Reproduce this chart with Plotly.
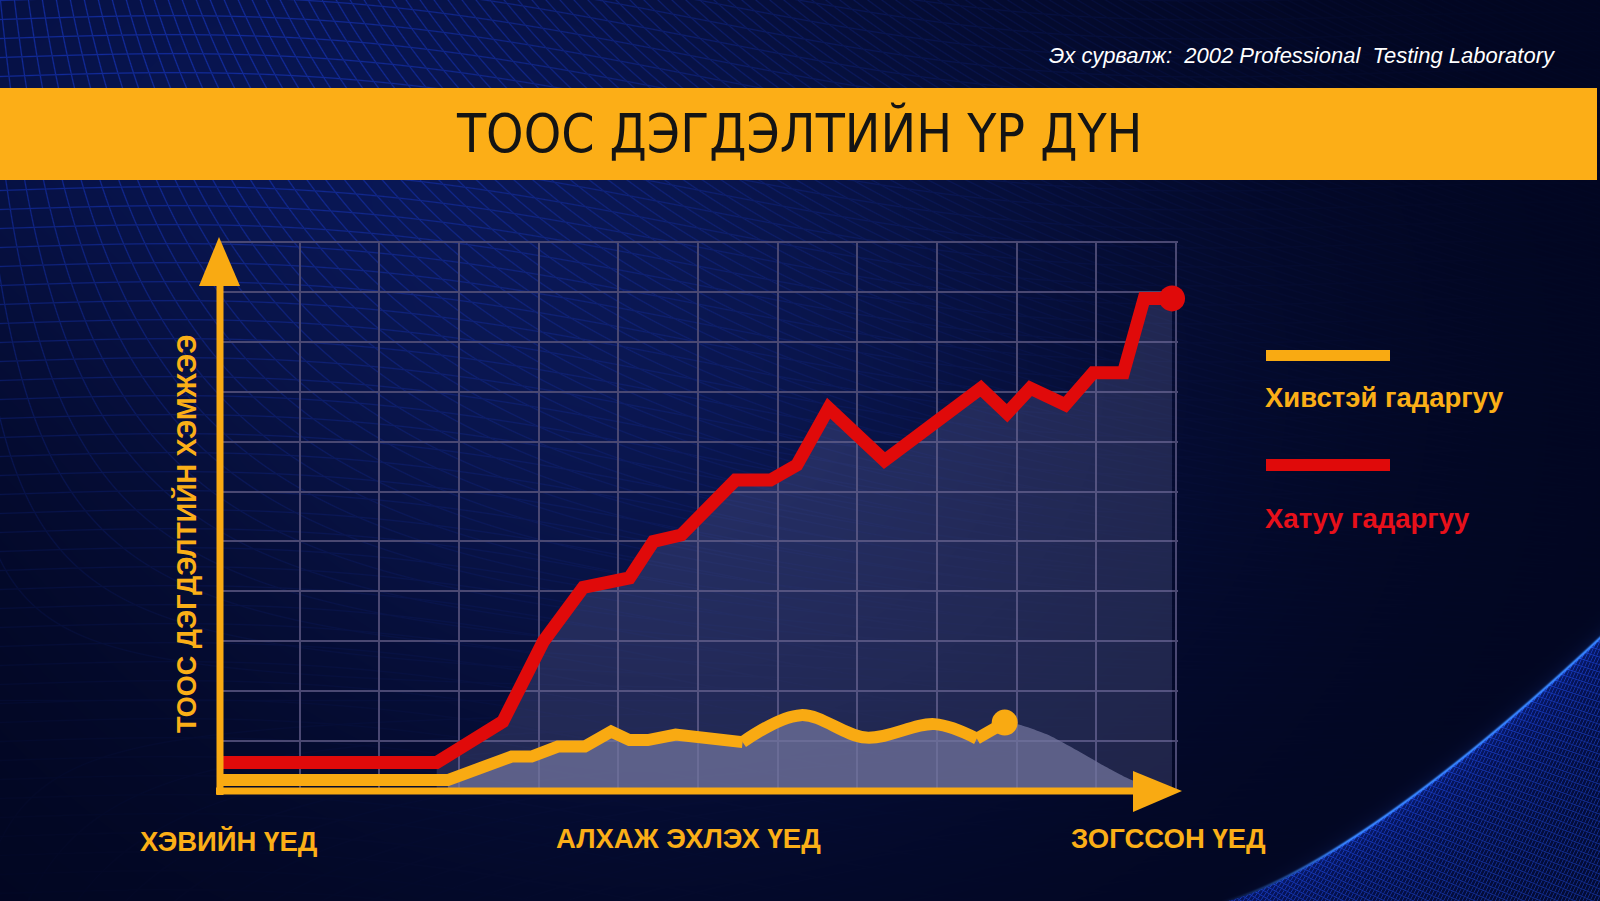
import base64
import struct
import zlib

import numpy as np
import plotly.graph_objects as go

# ---------------- data (axis units) ----------------
hard_x = [0.0, 2.72, 3.55, 4.06, 4.56, 5.14, 5.44, 5.79, 6.47, 6.91, 7.24, 7.64,
          8.34, 9.55, 9.88, 10.17, 10.61, 10.96, 11.34, 11.60, 11.95]
hard_y = [0.57, 0.57, 1.39, 3.00, 4.08, 4.27, 5.00, 5.13, 6.23, 6.23, 6.53, 7.67,
          6.62, 8.07, 7.57, 8.07, 7.74, 8.38, 8.38, 9.87, 9.87]

carpet_lin_x = [0.0, 2.86, 3.66, 3.91, 4.24, 4.58, 4.91, 5.14, 5.37, 5.72, 6.56]
carpet_lin_y = [0.22, 0.22, 0.69, 0.69, 0.89, 0.89, 1.19, 1.02, 1.02, 1.13, 0.98]
carpet_smooth_x = [6.56, 7.29, 8.11, 8.97, 9.50]
carpet_smooth_y = [0.98, 1.52, 1.07, 1.34, 1.05]
carpet_end_x = [9.50, 9.85]
carpet_end_y = [1.05, 1.37]

shadow_x = [9.85, 10.05, 10.40, 10.75, 11.10, 11.40, 11.60]
shadow_y = [1.37, 1.32, 1.12, 0.82, 0.50, 0.25, 0.12]

hard_fill_start = 1      # index where the hard-surface shading begins
carpet_fill_start = 1    # index where the carpet shading begins

title_text = "ТООС ДЭГДЭЛТИЙН ҮР ДҮН"
source_text = "<i>Эх сурвалж:\u00a0 2002 Professional\u00a0 Testing Laboratory</i>"
y_title = "ТООС ДЭГДЭЛТИЙН ХЭМЖЭЭ"
phase_labels = ["ХЭВИЙН ҮЕД", "АЛХАЖ ЭХЛЭХ ҮЕД", "ЗОГССОН ҮЕД"]
legend_labels = ["Хивстэй гадаргуу", "Хатуу гадаргуу"]

# ---------------- styling ----------------
W, H = 1600, 901
ORANGE = "#F9AA12"
RED = "#E00A0A"
BANNER = "#FCAE17"
TEXT_ORANGE = "#FBAF17"
TEXT_RED = "#E8101A"
GRID = "#4a4872"
FONT = "Liberation Sans, Arial, sans-serif"
NARROW = "DejaVu Sans Condensed, Liberation Sans Narrow, Arial Narrow, sans-serif"


def px(x):
    return x / W


def py(y):
    return 1 - y / H


# grid box in pixels (12 columns x 11 rows); axes ranges get a small pad so
# the outer grid lines are drawn
L, R, T, B = 220, 1176, 242, 791
NX, NY = 12, 11
PAD = 0.03
UX = (R - L) / NX
UY = (B - T) / NY
R_DOM = L + (NX + PAD) * UX
T_DOM = B - (NY + PAD) * UY


# ---------------- background picture ----------------
def make_background():
    yy, xx = np.mgrid[0:H, 0:W].astype(np.float32)
    img = np.zeros((H, W, 3), np.float32)
    img[:] = (2, 6, 32)
    g1 = np.exp(-(((xx - 650) / 540) ** 2 + ((yy - 380) / 430) ** 2))
    img += g1[..., None] * np.array([8, 16, 46], np.float32)
    g2 = np.exp(-(((xx - 150) / 520) ** 2 + ((yy - 60) / 300) ** 2))
    img += g2[..., None] * np.array([4, 10, 34], np.float32)

    def linemask(f, width=1.0):
        gy, gx = np.gradient(f)
        g = np.sqrt(gx ** 2 + gy ** 2) + 1e-6
        d = np.abs(f - np.round(f)) / g
        return np.clip(1.0 - d / width, 0, 1)

    # upper-left perspective mesh
    u = (xx - yy * (0.1 + xx / 700.0)) / 14.0
    v = (yy - 0.08 * xx + 25 * np.sin(xx / 220.0)) / 19.0
    m = np.maximum(linemask(u, 1.2), linemask(v, 1.2))
    fade = np.exp(-((xx / 850.0) ** 2 + (yy / 480.0) ** 2))
    img += (0.5 * fade * m)[..., None] * np.array([22, 50, 170], np.float32)

    # lower-right curved mesh surface
    t = np.clip((xx - 1220) / 380.0, 0, None)
    ye = 901 - 264 * t ** 1.35
    slope = 264 * 1.35 * t ** 0.35 / 380.0
    perp = (yy - ye) / np.sqrt(1 + slope ** 2)
    inside = np.clip(perp / 1.5, 0, 1)
    inner = np.array([6, 20, 92], np.float32)[None, None, :] * \
        (0.5 + 0.5 * np.exp(-np.clip(perp, 0, None) / 90.0))[..., None]
    img = img * (1 - inside[..., None]) + inner * inside[..., None]
    p = (xx + perp * 1.1) / 6.0
    q = (xx - perp * 1.1) / 6.0
    mm = np.maximum(linemask(p, 0.8), linemask(q, 0.8)) * inside
    img += (0.42 * mm)[..., None] * np.array([35, 80, 210], np.float32)
    edge_fade = np.clip(t * 3, 0, 1)
    e = np.exp(-(perp / 1.4) ** 2) * edge_fade
    img += (0.8 * e)[..., None] * np.array([60, 140, 230], np.float32)
    glow = np.exp(-np.abs(perp) / 6.0) * edge_fade
    img += (0.45 * glow)[..., None] * np.array([10, 30, 70], np.float32)

    arr = np.clip(img, 0, 255).astype(np.uint8)
    raw = b"".join(b"\x00" + arr[r].tobytes() for r in range(H))

    def chunk(tag, data):
        c = struct.pack(">I", len(data)) + tag + data
        return c + struct.pack(">I", zlib.crc32(tag + data) & 0xFFFFFFFF)

    png = (b"\x89PNG\r\n\x1a\n"
           + chunk(b"IHDR", struct.pack(">IIBBBBB", W, H, 8, 2, 0, 0, 0))
           + chunk(b"IDAT", zlib.compress(raw, 6))
           + chunk(b"IEND", b""))
    return "data:image/png;base64," + base64.b64encode(png).decode()


fig = go.Figure()

# shading under the hard-surface line
fig.add_trace(go.Scatter(
    x=hard_x[hard_fill_start:], y=hard_y[hard_fill_start:],
    mode="lines", line=dict(width=0), fill="tozeroy",
    fillcolor="rgba(110,115,165,0.27)", hoverinfo="skip", showlegend=False))

# lighter shading under the carpet line
fx = carpet_lin_x[carpet_fill_start:] + carpet_smooth_x[1:] + carpet_end_x[1:] + shadow_x[1:]
fy = carpet_lin_y[carpet_fill_start:] + carpet_smooth_y[1:] + carpet_end_y[1:] + shadow_y[1:]
fig.add_trace(go.Scatter(
    x=fx, y=fy, mode="lines", line=dict(width=0, shape="spline", smoothing=0.5),
    fill="tozeroy", fillcolor="rgba(115,118,158,0.72)", hoverinfo="skip",
    showlegend=False))

# hard surface line
fig.add_trace(go.Scatter(
    x=hard_x, y=hard_y, mode="lines", name=legend_labels[1],
    line=dict(color=RED, width=13), showlegend=False, cliponaxis=False))
fig.add_trace(go.Scatter(
    x=[hard_x[-1]], y=[hard_y[-1]], mode="markers", cliponaxis=False,
    marker=dict(color=RED, size=26), showlegend=False, hoverinfo="skip"))

# carpet line
fig.add_trace(go.Scatter(
    x=carpet_lin_x, y=carpet_lin_y, mode="lines", name=legend_labels[0],
    line=dict(color=ORANGE, width=12), showlegend=False))
fig.add_trace(go.Scatter(
    x=carpet_smooth_x, y=carpet_smooth_y, mode="lines",
    line=dict(color=ORANGE, width=12, shape="spline", smoothing=1.0),
    showlegend=False, hoverinfo="skip"))
fig.add_trace(go.Scatter(
    x=carpet_end_x, y=carpet_end_y, mode="lines",
    line=dict(color=ORANGE, width=12), showlegend=False, hoverinfo="skip"))
fig.add_trace(go.Scatter(
    x=[carpet_end_x[-1]], y=[carpet_end_y[-1]], mode="markers",
    marker=dict(color=ORANGE, size=26), showlegend=False, hoverinfo="skip"))

shapes = []
# title banner
shapes.append(dict(type="rect", xref="paper", yref="paper",
                   x0=px(0), x1=px(1597), y0=py(180), y1=py(88),
                   fillcolor=BANNER, line=dict(width=0), layer="below"))
# axis shafts
shapes.append(dict(type="line", xref="paper", yref="paper",
                   x0=px(220), x1=px(220), y0=py(795), y1=py(282),
                   line=dict(color=ORANGE, width=7)))
shapes.append(dict(type="line", xref="paper", yref="paper",
                   x0=px(216), x1=px(1138), y0=py(791), y1=py(791),
                   line=dict(color=ORANGE, width=7)))
# arrow heads
shapes.append(dict(type="path", xref="paper", yref="paper",
                   path=f"M {px(219)} {py(237)} L {px(240)} {py(286)} L {px(199)} {py(286)} Z",
                   fillcolor=ORANGE, line=dict(width=0)))
shapes.append(dict(type="path", xref="paper", yref="paper",
                   path=f"M {px(1182)} {py(791)} L {px(1133)} {py(771)} L {px(1133)} {py(812)} Z",
                   fillcolor=ORANGE, line=dict(width=0)))
# legend swatches
shapes.append(dict(type="rect", xref="paper", yref="paper",
                   x0=px(1266), x1=px(1390), y0=py(361), y1=py(350),
                   fillcolor=ORANGE, line=dict(width=0)))
shapes.append(dict(type="rect", xref="paper", yref="paper",
                   x0=px(1266), x1=px(1390), y0=py(471), y1=py(459),
                   fillcolor=RED, line=dict(width=0)))

annotations = [
    dict(text=title_text, x=px(799), y=py(133), xref="paper", yref="paper",
         showarrow=False, xanchor="center", yanchor="middle",
         font=dict(family=NARROW, size=53, color="#141414")),
    dict(text=source_text, x=px(1558), y=py(55), xref="paper", yref="paper",
         showarrow=False, xanchor="right", yanchor="middle",
         font=dict(family=FONT, size=22, color="#ffffff")),
    dict(text=f"<b>{y_title}</b>", x=px(186), y=py(534), xref="paper", yref="paper",
         showarrow=False, xanchor="center", yanchor="middle", textangle=-90,
         font=dict(family=FONT, size=27, color=TEXT_ORANGE)),
    dict(text=f"<b>{phase_labels[0]}</b>", x=px(229), y=py(841), xref="paper",
         yref="paper", showarrow=False, xanchor="center", yanchor="middle",
         font=dict(family=FONT, size=27.5, color=TEXT_ORANGE)),
    dict(text=f"<b>{phase_labels[1]}</b>", x=px(688), y=py(838), xref="paper",
         yref="paper", showarrow=False, xanchor="center", yanchor="middle",
         font=dict(family=FONT, size=27.5, color=TEXT_ORANGE)),
    dict(text=f"<b>{phase_labels[2]}</b>", x=px(1168), y=py(838), xref="paper",
         yref="paper", showarrow=False, xanchor="center", yanchor="middle",
         font=dict(family=FONT, size=27.5, color=TEXT_ORANGE)),
    dict(text=f"<b>{legend_labels[0]}</b>", x=px(1263), y=py(397), xref="paper",
         yref="paper", showarrow=False, xanchor="left", yanchor="middle",
         font=dict(family=FONT, size=27.5, color=TEXT_ORANGE)),
    dict(text=f"<b>{legend_labels[1]}</b>", x=px(1263), y=py(518), xref="paper",
         yref="paper", showarrow=False, xanchor="left", yanchor="middle",
         font=dict(family=FONT, size=27.5, color=TEXT_RED)),
]

fig.add_layout_image(dict(
    source=make_background(), xref="paper", yref="paper", x=0, y=1,
    sizex=1, sizey=1, xanchor="left", yanchor="top", sizing="stretch",
    layer="below"))

fig.update_layout(
    width=W, height=H, autosize=False,
    margin=dict(l=0, r=0, t=0, b=0, pad=0),
    paper_bgcolor="#03082c", plot_bgcolor="rgba(0,0,0,0)",
    showlegend=False, shapes=shapes, annotations=annotations,
    xaxis=dict(domain=[px(L), px(R_DOM)], range=[0, NX + PAD], dtick=1, tick0=0,
               showgrid=True, gridcolor=GRID, gridwidth=2, zeroline=False,
               showticklabels=False, ticks="", showline=False, fixedrange=True),
    yaxis=dict(domain=[py(B), py(T_DOM)], range=[0, NY + PAD], dtick=1, tick0=0,
               showgrid=True, gridcolor=GRID, gridwidth=2, zeroline=False,
               showticklabels=False, ticks="", showline=False, fixedrange=True),
)

fig.write_html(
    "out.html", config={"displayModeBar": False},
    post_script="document.body.style.margin='0';document.body.style.padding='0';"
                "document.body.style.overflow='hidden';"
                "document.documentElement.style.overflow='hidden';")
